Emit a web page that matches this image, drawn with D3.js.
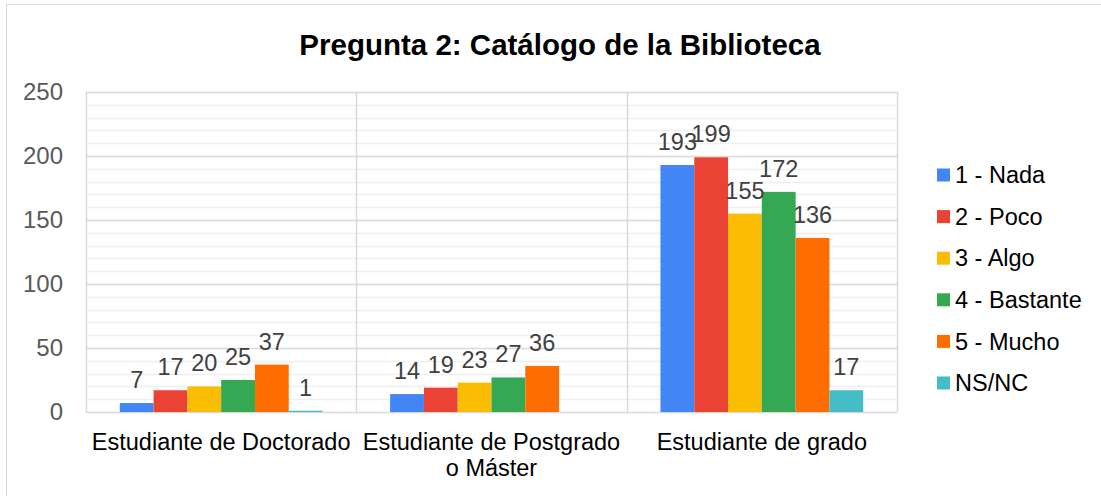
<!DOCTYPE html>
<html>
<head>
<meta charset="utf-8">
<script src="https://cdn.jsdelivr.net/npm/d3@7"></script>
<style>
  body { margin: 0; background: #fff; }
  text { font-family: Arial, "Liberation Sans", sans-serif; }
</style>
</head>
<body>
<script>
const categories = ['Estudiante de Doctorado', 'Estudiante de Postgrado o Máster', 'Estudiante de grado']
const categoryLines = [['Estudiante de Doctorado'], ['Estudiante de Postgrado', 'o Máster'], ['Estudiante de grado']]
const seriesNames = ['1 - Nada', '2 - Poco', '3 - Algo', '4 - Bastante', '5 - Mucho', 'NS/NC']
const seriesColors = ['#4285F4', '#EA4335', '#FBBC04', '#34A853', '#FF6D01', '#46BDC6']
const values = [
  [7, 17, 20, 25, 37, 1],
  [14, 19, 23, 27, 36, 0],
  [193, 199, 155, 172, 136, 17]
]
const yTicks = [0, 50, 100, 150, 200, 250]
const minorTicks = d3.range(0, 251, 10)

const width = 1101
const height = 496
const margin = { top: 92, right: 204, bottom: 84, left: 86 }

const svg = d3.select('body').append('svg')
  .attr('width', width)
  .attr('height', height)
  .attr('viewBox', [0, 0, width, height])

// chart frame
svg.append('rect')
  .attr('x', 6.5).attr('y', 4.5)
  .attr('width', width).attr('height', height)
  .attr('fill', 'none')
  .attr('stroke', '#d9d9d9')

svg.append('text')
  .attr('x', 560)
  .attr('y', 55)
  .attr('text-anchor', 'middle')
  .attr('font-size', 29.5)
  .attr('font-weight', 'bold')
  .attr('fill', '#000')
  .text('Pregunta 2: Catálogo de la Biblioteca')

const x0 = d3.scaleBand()
  .domain(categories)
  .range([margin.left, width - margin.right])

const x1 = d3.scaleBand()
  .domain(seriesNames)
  .range([x0.bandwidth() / 8, x0.bandwidth() * 7 / 8])

const y = d3.scaleLinear()
  .domain([0, 250])
  .range([height - margin.bottom, margin.top])

const grid = svg.append('g')

grid.selectAll('line.minor')
  .data(minorTicks.filter(d => d % 50 !== 0))
  .join('line')
    .attr('class', 'minor')
    .attr('x1', margin.left).attr('x2', width - margin.right)
    .attr('y1', d => Math.round(y(d)) + 0.5).attr('y2', d => Math.round(y(d)) + 0.5)
    .attr('stroke', '#efefef')
    .attr('stroke-width', 1.5)

grid.selectAll('line.major')
  .data(yTicks)
  .join('line')
    .attr('class', 'major')
    .attr('x1', margin.left).attr('x2', width - margin.right)
    .attr('y1', d => Math.round(y(d)) + 0.5).attr('y2', d => Math.round(y(d)) + 0.5)
    .attr('stroke', '#d9d9d9')
    .attr('stroke-width', 1.5)

grid.selectAll('line.vert')
  .data([...categories.map(c => x0(c)), width - margin.right])
  .join('line')
    .attr('class', 'vert')
    .attr('x1', d => Math.round(d) + 0.5).attr('x2', d => Math.round(d) + 0.5)
    .attr('y1', y(250)).attr('y2', y(0))
    .attr('stroke', '#d9d9d9')
    .attr('stroke-width', 1.5)

svg.append('g')
  .selectAll('text')
  .data(yTicks)
  .join('text')
    .attr('x', 63)
    .attr('y', d => y(d))
    .attr('dy', '0.35em')
    .attr('text-anchor', 'end')
    .attr('font-size', 24)
    .attr('fill', '#595959')
    .text(d => d)

const groups = svg.append('g')
  .selectAll('g')
  .data(categories)
  .join('g')
    .attr('transform', c => `translate(${x0(c)},0)`)

groups.selectAll('rect')
  .data((c, i) => values[i].map((v, j) => ({ name: seriesNames[j], value: v, color: seriesColors[j] })))
  .join('rect')
    .attr('x', d => x1(d.name))
    .attr('y', d => y(d.value))
    .attr('width', x1.bandwidth())
    .attr('height', d => y(0) - y(d.value))
    .attr('fill', d => d.color)

groups.selectAll('text')
  .data((c, i) => values[i].map((v, j) => ({ name: seriesNames[j], value: v })).filter(d => d.value > 0))
  .join('text')
    .attr('x', d => x1(d.name) + x1.bandwidth() / 2)
    .attr('y', d => y(d.value) - 15)
    .attr('text-anchor', 'middle')
    .attr('font-size', 23.5)
    .attr('fill', '#404040')
    .text(d => d.value)

svg.append('g')
  .selectAll('text')
  .data(categories)
  .join('text')
    .attr('x', c => x0(c) + x0.bandwidth() / 2)
    .attr('y', 450)
    .attr('text-anchor', 'middle')
    .attr('font-size', 23.5)
    .attr('fill', '#000')
    .each(function (c, i) {
      d3.select(this).selectAll('tspan')
        .data(categoryLines[i])
        .join('tspan')
          .attr('x', x0(c) + x0.bandwidth() / 2)
          .attr('dy', (d, k) => k === 0 ? 0 : 26)
          .text(d => d)
    })

const legend = svg.append('g')
  .selectAll('g')
  .data(seriesNames)
  .join('g')
    .attr('transform', (d, i) => `translate(937,${175 + i * 41.6})`)

legend.append('rect')
  .attr('x', 0).attr('y', -6.5)
  .attr('width', 13).attr('height', 13)
  .attr('fill', (d, i) => seriesColors[i])

legend.append('text')
  .attr('x', 18)
  .attr('dy', '0.35em')
  .attr('font-size', 23.5)
  .attr('fill', '#000')
  .text(d => d)
</script>
</body>
</html>
